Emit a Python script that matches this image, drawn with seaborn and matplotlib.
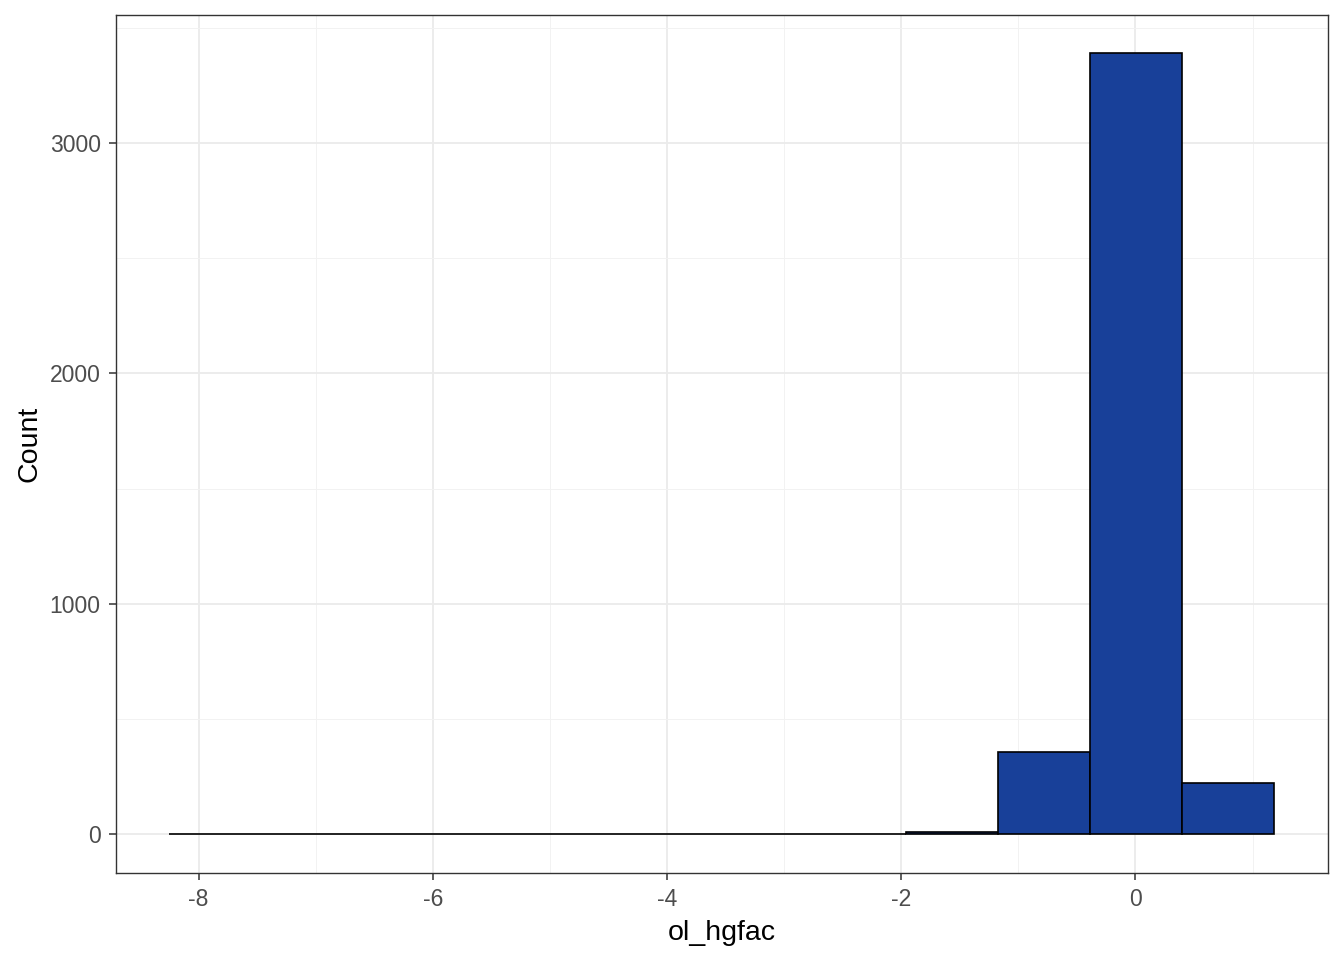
import numpy as np
import pandas as pd
import matplotlib
matplotlib.use("Agg")
import matplotlib.pyplot as plt
import seaborn as sns
from matplotlib.ticker import MultipleLocator

# Data
bin_centers = [-7.86, -7.07, -6.28, -5.50, -4.71, -3.93, -3.14, -2.35, -1.57, -0.78, 0.00, 0.79]
bin_counts = [1, 0, 0, 0, 0, 0, 0, 0, 11, 355, 3392, 222]
x_ticks = [-8, -6, -4, -2, 0]
y_ticks = [0, 1000, 2000, 3000]

bin_start = -8.25
bin_width = 0.786
edges = [float(v) for v in bin_start + bin_width * np.arange(len(bin_centers) + 1)]

df = pd.DataFrame({"ol_hgfac": bin_centers, "n": bin_counts})

sns.set_style("white")
plt.rcParams["font.family"] = ["Liberation Sans", "DejaVu Sans"]
plt.rcParams["axes.unicode_minus"] = False

fig = plt.figure(figsize=(13.44, 9.6), dpi=100)
ax = fig.add_axes([116 / 1344, 1 - 873 / 960, (1328 - 116) / 1344, (873 - 15) / 960])

sns.histplot(data=df, x="ol_hgfac", weights="n", bins=edges, ax=ax,
             color="#184099", alpha=1, edgecolor="black", linewidth=1.2, zorder=3)

ax.set_xlim(-8.706, 1.644)
ax.set_ylim(-169, 3556)
ax.set_xticks(x_ticks)
ax.set_yticks(y_ticks)
ax.set_xticklabels([str(v) for v in x_ticks])
ax.set_yticklabels([str(v) for v in y_ticks])
ax.xaxis.set_minor_locator(MultipleLocator(1))
ax.yaxis.set_minor_locator(MultipleLocator(500))
ax.grid(True, which="major", color="#EBEBEB", linewidth=1.3, zorder=0)
ax.grid(True, which="minor", color="#F2F2F2", linewidth=0.7, zorder=0)
ax.set_axisbelow(True)

for s in ax.spines.values():
    s.set_visible(True)
    s.set_color("#333333")
    s.set_linewidth(1.0)

ax.tick_params(axis="both", which="major", length=5, width=1.1, color="#333333",
               labelcolor="#4D4D4D", labelsize=16.5, pad=6, bottom=True, left=True)
ax.tick_params(axis="both", which="minor", length=0)

ax.set_xlabel("ol_hgfac", fontsize=20.5, color="black", labelpad=6.5)
ax.set_ylabel("Count", fontsize=20.5, color="black", labelpad=5)

fig.savefig("out.png", dpi=100)
